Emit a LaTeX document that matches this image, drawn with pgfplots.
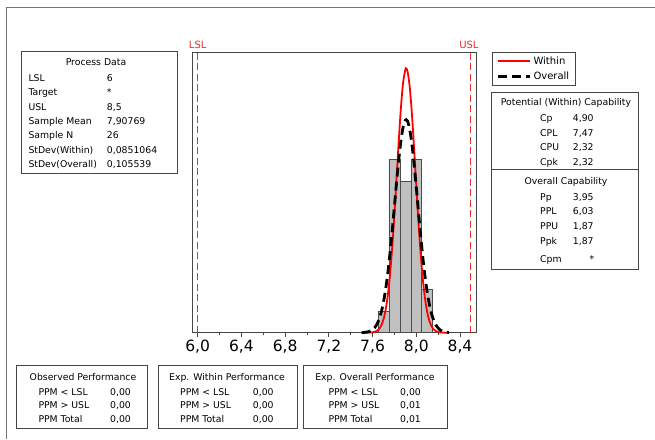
\documentclass[border=0pt]{standalone}
\usepackage{fontspec}
\setmainfont{DejaVu Sans}
\usepackage{pgfplots}
\pgfplotsset{compat=1.18}
\definecolor{barfill}{RGB}{192,192,192}
\definecolor{spec}{RGB}{235,45,45}
\definecolor{frame}{RGB}{70,70,70}
\newcommand{\bt}{\fontsize{9.3}{11}\selectfont}
\newcommand{\rowtxt}[5]{%
  \node[anchor=base west,inner sep=0pt] at (#1,#3) {#4};%
  \node[anchor=base west,inner sep=0pt] at (#2,#3) {#5};}
\begin{document}
\begin{tikzpicture}
\useasboundingbox (0,0) rectangle (655pt,439pt);
\fill[white] (0,0) rectangle (655pt,439pt);
\draw[black!55, line width=0.8pt] (6pt,0pt) -- (6pt,432pt) -- (660pt,432pt);

\begin{axis}[
  at={(192.3pt,106.3pt)}, anchor=south west,
  scale only axis, width=283.7pt, height=280.7pt,
  xmin=5.9506, xmax=8.5464, ymin=0, ymax=12.95,
  xtick={6,6.4,6.8,7.2,7.6,8,8.4},
  minor xtick={6.2,6.6,7.0,7.4,7.8,8.2},
  ytick=\empty,
  xtick pos=left,
  tick align=outside,
  major tick length=4pt, minor tick length=2.5pt,
  every tick/.style={frame, line width=0.8pt},
  axis line style={frame, line width=0.8pt},
  tick label style={font=\fontsize{15.5}{16}\selectfont},
  xticklabel style={/pgf/number format/.cd, fixed, fixed zerofill, precision=1, use comma, assume math mode=true},
  clip=false,
  legend style={at={(1.0575,1.0005)}, anchor=north west, draw=frame, line width=0.8pt,
    font=\fontsize{10}{12}\selectfont, inner xsep=4pt, inner ysep=2.5pt, row sep=2pt},
  legend cell align=left,
  legend image code/.code={\draw[#1] (0pt,0pt) -- (32pt,0pt);},
]
\addplot[ybar interval, fill=barfill, draw=black!70, line width=0.6pt, forget plot]
  coordinates {(7.65,1) (7.75,8) (7.85,7) (7.95,8) (8.05,2) (8.15,2)};
\addplot[spec, line width=0.9pt, dash pattern=on 7pt off 3.5pt, forget plot]
  coordinates {(6,0) (6,12.95)};
\addplot[spec, line width=0.9pt, dash pattern=on 7pt off 3.5pt, forget plot]
  coordinates {(8.5,0) (8.5,12.95)};
\addplot[red, line width=1.8pt, smooth] coordinates {
(7.50,0.0001) (7.52,0.0004) (7.54,0.0011) (7.56,0.0029) (7.58,0.0074)
(7.60,0.0177) (7.62,0.0402) (7.64,0.0865) (7.66,0.1764) (7.68,0.340)
(7.70,0.620) (7.72,1.071) (7.74,1.749) (7.76,2.704) (7.78,3.955)
(7.80,5.473) (7.82,7.168) (7.84,8.883) (7.86,10.417) (7.88,11.559)
(7.90,12.138) (7.9077,12.188) (7.92,12.061) (7.94,11.340) (7.96,10.090)
(7.98,8.495) (8.00,6.768) (8.02,5.102) (8.04,3.640) (8.06,2.457)
(8.08,1.570) (8.10,0.949) (8.12,0.543) (8.14,0.294) (8.16,0.150)
(8.18,0.073) (8.20,0.033) (8.22,0.0145) (8.24,0.006) (8.26,0.0023)
(8.28,0.0008) (8.30,0.0003)};
\addlegendentry{Within\hspace{13pt}}
\addplot[black, line width=2.8pt, dash pattern=on 9pt off 5pt, smooth] coordinates {
(7.50,0.0057) (7.52,0.0116) (7.54,0.0227) (7.56,0.0432) (7.58,0.0793)
(7.60,0.140) (7.62,0.239) (7.64,0.394) (7.66,0.626) (7.68,0.959)
(7.70,1.418) (7.72,2.022) (7.74,2.781) (7.76,3.692) (7.78,4.727)
(7.80,5.840) (7.82,6.959) (7.84,8.001) (7.86,8.874) (7.88,9.496)
(7.90,9.802) (7.9077,9.828) (7.92,9.762) (7.94,9.378) (7.96,8.692)
(7.98,7.772) (8.00,6.704) (8.02,5.579) (8.04,4.479) (8.06,3.469)
(8.08,2.592) (8.10,1.868) (8.12,1.299) (8.14,0.871) (8.16,0.564)
(8.18,0.352) (8.20,0.212) (8.22,0.123) (8.24,0.069) (8.26,0.037)
(8.28,0.0195) (8.30,0.0098)};
\addlegendentry{Overall}
\node[anchor=base, text=spec, font=\fontsize{10}{12}\selectfont, inner sep=0pt, yshift=3pt] at (axis cs:6,12.95) {LSL};
\node[anchor=base, text=spec, font=\fontsize{10}{12}\selectfont, inner sep=0pt, yshift=3pt, xshift=-2pt] at (axis cs:8.5,12.95) {USL};
\end{axis}

\begin{scope}[x=1pt,y=-1pt,yshift=439pt, font=\bt]
% Process Data
\draw[frame, line width=0.8pt, fill=white] (21,51.7) rectangle (177.3,173);
\node[anchor=base,inner sep=0pt] at (96,65.9) {Process Data};
\rowtxt{28.3}{106.7}{81.2}{LSL}{6}
\rowtxt{28.3}{106.7}{95.6}{Target}{*}
\rowtxt{28.3}{106.7}{110.1}{USL}{8,5}
\rowtxt{28.3}{106.7}{124.6}{Sample Mean}{7,90769}
\rowtxt{28.3}{106.7}{138.9}{Sample N}{26}
\rowtxt{28.3}{106.7}{153.4}{StDev(Within)}{0,0851064}
\rowtxt{28.3}{106.7}{167.8}{StDev(Overall)}{0,105539}
% Capability
\draw[frame, line width=0.8pt, fill=white] (491.7,92.3) rectangle (638.7,269.3);
\draw[frame, line width=0.8pt] (491.7,169) -- (638.7,169);
\node[anchor=base,inner sep=0pt] at (566,105.4) {Potential (Within) Capability};
\rowtxt{540}{572.7}{121.7}{Cp}{4,90}
\rowtxt{540}{572.7}{136.1}{CPL}{7,47}
\rowtxt{540}{572.7}{150.4}{CPU}{2,32}
\rowtxt{540}{572.7}{165.1}{Cpk}{2,32}
\node[anchor=base,inner sep=0pt] at (566,184.4) {Overall Capability};
\rowtxt{540}{572.7}{200.1}{Pp}{3,95}
\rowtxt{540}{572.7}{214.4}{PPL}{6,03}
\rowtxt{540}{572.7}{229.1}{PPU}{1,87}
\rowtxt{540}{572.7}{244.1}{Ppk}{1,87}
\rowtxt{540}{589.5}{262.7}{Cpm}{*}
% Bottom boxes
\draw[frame, line width=0.8pt, fill=white] (16.7,365) rectangle (147.7,428.3);
\node[anchor=base,inner sep=0pt] at (83,380.4) {Observed Performance};
\rowtxt{38.3}{110}{395}{PPM < LSL}{0,00}
\rowtxt{38.3}{110}{408.9}{PPM > USL}{0,00}
\rowtxt{38.3}{110}{422.9}{PPM Total}{0,00}
\draw[frame, line width=0.8pt, fill=white] (158,365) rectangle (297.7,428.3);
\node[anchor=base,inner sep=0pt] at (227,380.4) {Exp. Within Performance};
\rowtxt{180}{252.7}{395}{PPM < LSL}{0,00}
\rowtxt{180}{252.7}{408.9}{PPM > USL}{0,00}
\rowtxt{180}{252.7}{422.9}{PPM Total}{0,00}
\draw[frame, line width=0.8pt, fill=white] (303.3,365) rectangle (447.7,428.3);
\node[anchor=base,inner sep=0pt] at (375,380.4) {Exp. Overall Performance};
\rowtxt{328.3}{400}{395}{PPM < LSL}{0,00}
\rowtxt{328.3}{400}{408.9}{PPM > USL}{0,01}
\rowtxt{328.3}{400}{422.9}{PPM Total}{0,01}
\end{scope}
\end{tikzpicture}
\end{document}
